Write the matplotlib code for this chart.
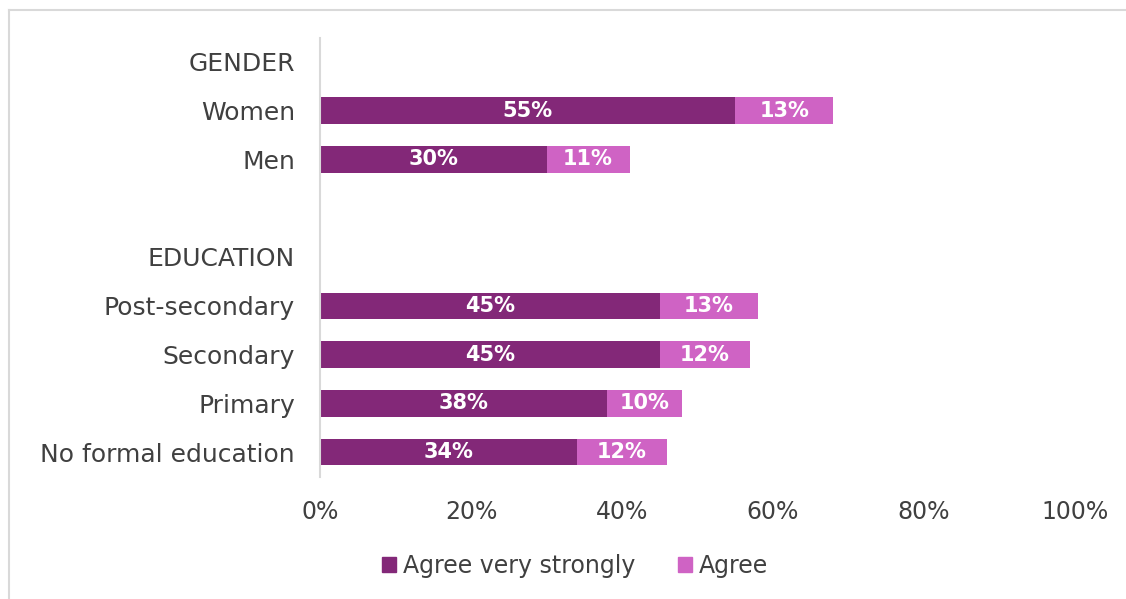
"""Stacked horizontal bars: agreement by gender and education."""

import matplotlib

matplotlib.use("Agg")

import matplotlib.pyplot as plt
from matplotlib.lines import Line2D
from matplotlib.patches import Patch

plt.rcParams["font.family"] = ["DejaVu Sans"]

# Rows, top to bottom. Header rows and the spacer carry no bars.
labels = [
    "GENDER",
    "Women",
    "Men",
    "",
    "EDUCATION",
    "Post-secondary",
    "Secondary",
    "Primary",
    "No formal education",
]
very_strongly = [None, 55, 30, None, None, 45, 45, 38, 34]
agree = [None, 13, 11, None, None, 13, 12, 10, 12]
ticks = [0, 20, 40, 60, 80, 100]

DARK = "#832878"
LIGHT = "#CF63C4"
TEXT = "#404040"

fig = plt.figure(figsize=(11.26, 5.99), dpi=100)
ax = fig.add_axes([320 / 1126, 1 - 476.5 / 599, 755 / 1126, 439 / 599])

for i, (v, a) in enumerate(zip(very_strongly, agree)):
    if v is None:
        continue
    ax.barh(i, v, height=0.54, color=DARK)
    ax.barh(i, a, left=v, height=0.54, color=LIGHT)
    ax.text(v / 2, i, f"{v}%", ha="center", va="center",
            color="white", fontsize=15, fontweight="bold")
    ax.text(v + a / 2, i, f"{a}%", ha="center", va="center",
            color="white", fontsize=15, fontweight="bold")

ax.set_xlim(0, 100)
ax.set_ylim(len(labels) - 0.5, -0.5)
ax.set_yticks(range(len(labels)))
ax.set_yticklabels(labels, fontsize=18, color=TEXT)
ax.set_xticks(ticks)
ax.set_xticklabels([f"{t}%" for t in ticks], fontsize=17, color=TEXT)
ax.tick_params(length=0, axis="y", pad=18)
ax.tick_params(length=0, axis="x", pad=17)
for side in ("top", "right", "bottom"):
    ax.spines[side].set_visible(False)
ax.spines["left"].set_color("#d9d9d9")
ax.spines["left"].set_linewidth(1.5)

handles = [Patch(color=DARK, label="Agree very strongly"),
           Patch(color=LIGHT, label="Agree")]
fig.legend(handles=handles, loc="center", bbox_to_anchor=(575 / 1126, 1 - 566 / 599),
           ncol=2, frameon=False, fontsize=17, handlelength=0.6, handleheight=0.6,
           handletextpad=0.3, columnspacing=1.8, labelcolor=TEXT)

# light frame around the chart area
fig.add_artist(Line2D([9 / 1126, 9 / 1126], [0, 1 - 10 / 599],
                      transform=fig.transFigure, color="#d9d9d9", lw=1.5))
fig.add_artist(Line2D([9 / 1126, 1], [1 - 10 / 599, 1 - 10 / 599],
                      transform=fig.transFigure, color="#d9d9d9", lw=1.5))

fig.savefig("out.png", dpi=100)
